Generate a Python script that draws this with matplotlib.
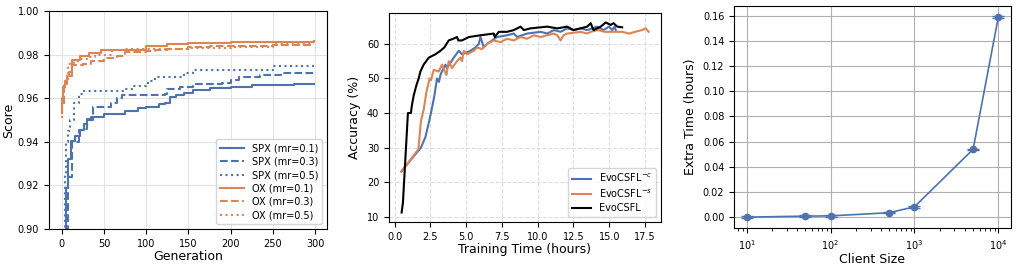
import matplotlib
matplotlib.use('Agg')
import matplotlib.pyplot as plt

blue = '#4C72B0'
orange = '#DD8452'

# --- panel 1: score vs generation (best-so-far step curves) ---
spx1_gen = [3, 5, 8, 10.5, 16, 22, 26, 29.5, 35, 50, 75, 90, 100, 115, 122, 128, 135, 145, 155, 175, 200, 225, 275, 299]
spx1_val = [0.899, 0.919, 0.932, 0.9405, 0.9425, 0.9453, 0.948, 0.9506, 0.9515, 0.9528, 0.954, 0.9555, 0.956, 0.9575, 0.958,
            0.9606, 0.9615, 0.9625, 0.9639, 0.9645, 0.965, 0.9661, 0.9665, 0.9667]
spx3_gen = [5, 8, 12, 20, 26, 30, 37, 56, 58, 65, 72, 122, 125, 140, 155, 190, 200, 210, 235, 260, 299]
spx3_val = [0.899, 0.924, 0.940, 0.9453, 0.946, 0.950, 0.956, 0.956, 0.958, 0.960, 0.9613, 0.962, 0.9642, 0.9652, 0.9665,
            0.967, 0.9682, 0.9697, 0.9705, 0.9716, 0.972]
spx5_gen = [2, 4, 5, 7, 10, 15, 20, 27, 75, 85, 100, 105, 110, 145, 155, 250, 299]
spx5_val = [0.899, 0.925, 0.940, 0.945, 0.950, 0.958, 0.962, 0.9633, 0.9644, 0.9655, 0.967, 0.968, 0.9699, 0.9715, 0.9731,
            0.9746, 0.9746]
ox1_gen = [0, 1, 2, 4, 6, 8.6, 12.6, 22, 32, 46, 100, 125, 150, 200, 299]
ox1_val = [0.953, 0.960, 0.965, 0.968, 0.970, 0.972, 0.9774, 0.9792, 0.9807, 0.982, 0.9838, 0.9847, 0.9853, 0.9858, 0.9862]
ox3_gen = [0, 1, 3, 6, 12, 25, 35, 50, 65, 75, 100, 110, 125, 150, 175, 250, 299]
ox3_val = [0.953, 0.958, 0.965, 0.970, 0.975, 0.9755, 0.977, 0.9786, 0.9795, 0.9812, 0.9815, 0.982, 0.9827, 0.9835, 0.9838,
           0.9846, 0.9846]
ox5_gen = [0, 1, 3, 7, 15, 20, 30, 40, 60, 75, 120, 150, 200, 250, 299]
ox5_val = [0.951, 0.958, 0.967, 0.9758, 0.977, 0.978, 0.979, 0.980, 0.982, 0.9824, 0.9825, 0.9832, 0.9837, 0.9847, 0.9847]

# --- panel 2: accuracy vs training time ---
evo_t = [0.49, 0.58, 0.93, 1.14, 1.2, 1.33, 1.52, 1.68, 1.8, 2.03, 2.38, 2.85, 3.2, 3.48, 3.78, 4.1, 4.36, 4.45, 4.7,
         5.2, 6.0, 6.93, 7.0, 7.28, 7.86, 8.33, 8.56, 8.8, 9.03, 9.5, 10.66, 11.36, 12.06, 12.5, 12.99, 13.46, 13.7,
         13.9, 14.4, 14.75, 15.1, 15.3, 15.56, 15.9]
evo_acc = [11.2, 14.0, 40.0, 40.0, 42.0, 45.0, 48.0, 50.0, 52.0, 54.0, 56.0, 57.0, 58.0, 59.0, 61.0, 61.5, 62.0, 61.0,
           61.0, 62.0, 62.5, 63.0, 62.0, 63.5, 63.5, 64.0, 64.5, 65.0, 64.0, 64.5, 65.0, 64.5, 65.0, 64.0, 64.5, 65.0,
           66.0, 64.0, 65.0, 66.2, 65.5, 66.0, 65.0, 64.8]
noc_t = [0.47, 1.84, 2.15, 2.38, 2.54, 2.78, 2.96, 3.1, 3.2, 3.3, 3.55, 3.66, 4.13, 4.48, 4.71, 5.3, 5.65, 5.88, 6.0,
         6.23, 6.46, 6.81, 7.16, 7.86, 8.33, 8.56, 9.26, 10.2, 10.66, 11.13, 11.6, 12.06, 12.5, 13.0, 13.46, 14.16,
         14.6, 14.98, 15.2, 15.37, 15.45]
noc_acc = [23.1, 30.0, 33.0, 37.0, 40.0, 45.0, 50.0, 49.0, 51.0, 52.0, 54.0, 53.0, 56.0, 58.0, 57.0, 58.0, 59.0, 60.0,
           62.0, 59.0, 60.0, 61.0, 62.0, 62.5, 63.0, 62.0, 63.0, 63.5, 63.0, 64.0, 63.5, 64.5, 64.0, 64.5, 64.0, 65.0,
           64.0, 65.0, 64.0, 65.0, 64.0]
nos_t = [0.47, 1.66, 1.84, 2.03, 2.22, 2.33, 2.45, 2.54, 2.73, 3.08, 3.31, 3.62, 3.78, 4.01, 4.36, 4.6, 4.71, 4.83,
         5.06, 5.53, 5.77, 6.1, 6.46, 6.93, 7.4, 7.86, 8.33, 8.8, 9.26, 9.73, 10.2, 10.66, 11.13, 11.36, 11.6, 11.8,
         12.06, 13.0, 13.46, 13.7, 14.2, 14.7, 15.9, 16.4, 16.8, 17.3, 17.55, 17.75]
nos_acc = [23.0, 29.5, 37.6, 41.0, 46.0, 48.0, 50.0, 49.5, 52.5, 52.0, 54.0, 51.0, 55.0, 53.0, 55.0, 56.0, 55.0, 58.0,
           57.0, 58.0, 59.0, 58.5, 60.0, 61.0, 60.5, 61.5, 61.0, 62.0, 61.5, 62.5, 62.0, 62.5, 63.0, 62.5, 61.0, 62.5,
           63.0, 63.5, 63.0, 63.5, 64.0, 63.5, 63.5, 63.0, 63.5, 64.0, 64.5, 63.5]

# --- panel 3: extra time vs client size ---
clients = [10, 50, 100, 500, 1000, 5000, 10000]
extra_time = [0.0002, 0.001, 0.0012, 0.0037, 0.0084, 0.054, 0.159]

fig = plt.figure(figsize=(10.18, 2.64), dpi=100)
tick_fs = 7
label_fs = 9

ax1 = fig.add_axes([0.0481, 0.1326, 0.2731, 0.8258])
ax1.plot(spx1_gen, spx1_val, color=blue, ls='-', lw=1.5, drawstyle='steps-post', label='SPX (mr=0.1)')
ax1.plot(spx3_gen, spx3_val, color=blue, ls='--', lw=1.5, drawstyle='steps-post', label='SPX (mr=0.3)')
ax1.plot(spx5_gen, spx5_val, color=blue, ls=':', lw=1.5, drawstyle='steps-post', label='SPX (mr=0.5)')
ax1.plot(ox1_gen, ox1_val, color=orange, ls='-', lw=1.5, drawstyle='steps-post', label='OX (mr=0.1)')
ax1.plot(ox3_gen, ox3_val, color=orange, ls='--', lw=1.5, drawstyle='steps-post', label='OX (mr=0.3)')
ax1.plot(ox5_gen, ox5_val, color=orange, ls=':', lw=1.5, drawstyle='steps-post', label='OX (mr=0.5)')
ax1.set_xlim(-15, 314)
ax1.set_ylim(0.90, 1.00)
ax1.set_xticks([0, 50, 100, 150, 200, 250, 300])
ax1.set_yticks([0.90, 0.92, 0.94, 0.96, 0.98, 1.00])
ax1.grid(True, color='#dddddd', lw=0.8, alpha=0.8)
ax1.set_xlabel('Generation', fontsize=label_fs, labelpad=1)
ax1.set_ylabel('Score', fontsize=label_fs, labelpad=2)
ax1.tick_params(labelsize=tick_fs)
ax1.legend(loc='lower right', fontsize=7, handlelength=2.5, labelspacing=0.35, borderpad=0.4)

ax2 = fig.add_axes([0.3821, 0.1591, 0.2672, 0.7917])
ax2.plot(noc_t, noc_acc, color=blue, lw=1.5, label='EvoCSFL$^{-c}$')
ax2.plot(nos_t, nos_acc, color=orange, lw=1.5, label='EvoCSFL$^{-s}$')
ax2.plot(evo_t, evo_acc, color='black', lw=1.5, label='EvoCSFL')
ax2.set_xticks([0, 2.5, 5, 7.5, 10, 12.5, 15, 17.5])
ax2.set_yticks([10, 20, 30, 40, 50, 60])
ax2.grid(True, ls='--', color='#dddddd', lw=0.8)
ax2.set_xlabel('Training Time (hours)', fontsize=label_fs, labelpad=1)
ax2.set_ylabel('Accuracy (%)', fontsize=label_fs, labelpad=4)
ax2.tick_params(labelsize=tick_fs)
ax2.legend(loc='lower right', fontsize=7, labelspacing=0.35, borderpad=0.4)

ax3 = fig.add_axes([0.7210, 0.1364, 0.2721, 0.8409])
ax3.errorbar(clients, extra_time, yerr=[0.0006] * len(clients), color=blue, lw=1.2, marker='o', ms=4.5,
             capsize=4)
ax3.set_xscale('log')
ax3.set_yticks([0.0, 0.02, 0.04, 0.06, 0.08, 0.10, 0.12, 0.14, 0.16])
ax3.grid(True, which='major', color='#b0b0b0', lw=0.8)
ax3.set_xlabel('Client Size', fontsize=label_fs, labelpad=1)
ax3.set_ylabel('Extra Time (hours)', fontsize=label_fs, labelpad=4)
ax3.tick_params(labelsize=tick_fs)

plt.savefig('out.png', dpi=100)
